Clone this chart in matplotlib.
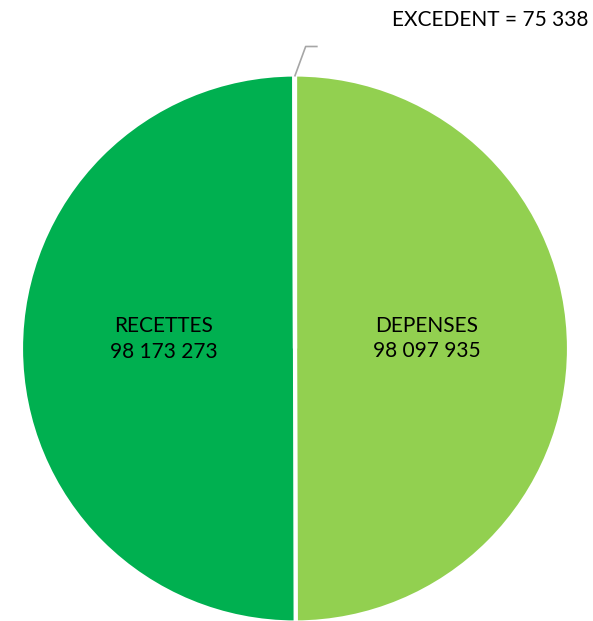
import numpy as np
import matplotlib
matplotlib.use('Agg')
from matplotlib import pyplot as plt

# budget : recettes / dépenses / excédent
labels = ['DEPENSES', 'RECETTES', 'EXCEDENT']
values = [98097935, 98173273, 75338]
colors = ['#92D050', '#00B050', '#00B050']


def fmt(v):
    return f'{v:,}'.replace(',', ' ')


plt.rcParams['font.family'] = ['Lato', 'DejaVu Sans']

fig = plt.figure(figsize=(5.93, 6.21), dpi=100)
ax = fig.add_axes([0, 0, 1, 1])

cx, cy, r = 295, 272.5, 274
wedges, _ = ax.pie(values, colors=colors, startangle=90, counterclock=False,
                   center=(cx, cy), radius=r, frame=True,
                   wedgeprops=dict(edgecolor='white', linewidth=3))
ax.set_xlim(0, 593)
ax.set_ylim(0, 621)
ax.set_aspect('equal')
ax.axis('off')

# étiquettes internes
for w, lab, v in zip(wedges[:2], labels[:2], values[:2]):
    ang = np.deg2rad((w.theta1 + w.theta2) / 2)
    x = cx + 0.48 * r * np.cos(ang)
    y = cy + 0.48 * r * np.sin(ang) + 10
    ax.text(x, y, f'{lab}\n{fmt(v)}', ha='center', va='center',
            fontsize=15, linespacing=1.35, color='black')

# excédent avec ligne de rappel
w = wedges[2]
ang = np.deg2rad((w.theta1 + w.theta2) / 2)
x0 = cx + (r - 2) * np.cos(ang)
y0 = cy + (r - 2) * np.sin(ang)
ax.plot([x0, x0 + 11, x0 + 23], [y0, y0 + 30, y0 + 30],
        color='#A6A6A6', lw=1.2, solid_capstyle='butt')
ax.text(588, 601, f'{labels[2]} = {fmt(values[2])}', ha='right', va='center',
        fontsize=15, color='black')

fig.savefig('out.png', dpi=100)
